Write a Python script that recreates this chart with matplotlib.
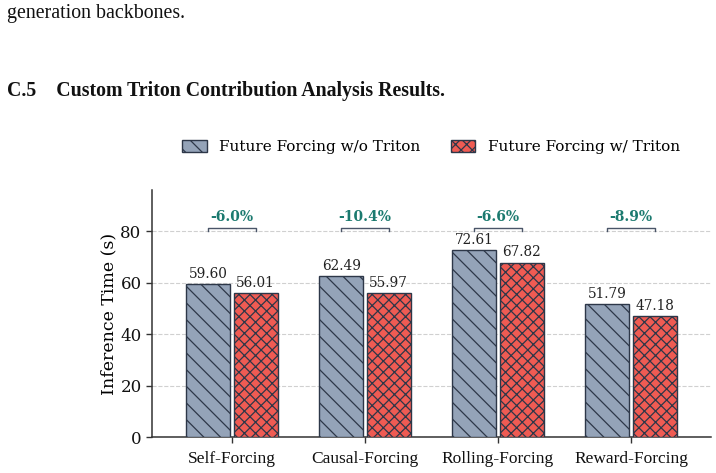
import matplotlib
matplotlib.use("Agg")
import matplotlib.pyplot as plt
import numpy as np

categories = ["Self-Forcing", "Causal-Forcing", "Rolling-Forcing", "Reward-Forcing"]
without_triton = [59.60, 62.49, 72.61, 51.79]
with_triton = [56.01, 55.97, 67.82, 47.18]
reductions = ["-6.0%", "-10.4%", "-6.6%", "-8.9%"]
series_names = ["Future Forcing w/o Triton", "Future Forcing w/ Triton"]
y_ticks = [0, 20, 40, 60, 80]

blue = "#94a3b8"
red = "#ef5b53"
edge = "#2d3748"
teal = "#1b7a6f"
bracket_c = "#4a5568"

plt.rcParams["hatch.linewidth"] = 0.9
plt.rcParams["hatch.color"] = edge

fig = plt.figure(figsize=(7.16, 4.73), dpi=100)
ax = fig.add_axes([0.2123, 0.0761, 0.7807, 0.522])

x = np.arange(len(categories))
w = 0.33
off = 0.178
b1 = ax.bar(x - off, without_triton, w, color=blue, edgecolor=edge, linewidth=1.0,
            hatch="\\\\", label=series_names[0], zorder=3)
b2 = ax.bar(x + off, with_triton, w, color=red, edgecolor=edge, linewidth=1.0,
            hatch="xxx", label=series_names[1], zorder=3)

for xi, v in zip(x - off, without_triton):
    ax.text(xi, v + 1.2, f"{v:.2f}", ha="center", va="bottom", fontsize=9.8,
            family="DejaVu Serif", color="#222222")
for xi, v in zip(x + off, with_triton):
    ax.text(xi, v + 1.2, f"{v:.2f}", ha="center", va="bottom", fontsize=9.8,
            family="DejaVu Serif", color="#222222")

by = 80.0
bh = 1.3
for xi, r in zip(x, reductions):
    ax.plot([xi - off, xi - off, xi + off, xi + off], [by, by + bh, by + bh, by],
            color=bracket_c, lw=1.0, zorder=4)
    ax.text(xi, by + bh + 1.4, r, ha="center", va="bottom", fontsize=10,
            family="DejaVu Serif", fontweight="bold", color=teal)

ax.set_xlim(-0.6, 3.6)
ax.set_ylim(0, 96)
ax.set_yticks(y_ticks)
ax.set_xticks(x)
ax.set_xticklabels(categories, family="Liberation Serif", fontsize=12.5)
for lab in ax.get_yticklabels():
    lab.set_family("DejaVu Serif")
    lab.set_fontsize(12)
ax.set_ylabel("Inference Time (s)", family="DejaVu Serif", fontsize=12.5, labelpad=2)

ax.yaxis.grid(True, linestyle="--", color="#d0d0d0", lw=0.8, zorder=0)
ax.set_axisbelow(True)
for s in ["top", "right"]:
    ax.spines[s].set_visible(False)
for s in ["left", "bottom"]:
    ax.spines[s].set_color("#333333")
    ax.spines[s].set_linewidth(1.1)
ax.tick_params(axis="both", colors="#333333", length=4, width=1.0, labelcolor="#111111")
ax.tick_params(axis="x", pad=6)

leg = fig.legend(handles=[b1, b2], labels=series_names, loc="center",
                 bbox_to_anchor=(0.602, 0.689), ncol=2, frameon=False,
                 prop={"family": "DejaVu Serif", "size": 11}, columnspacing=2.0,
                 handlelength=1.6, handleheight=0.8)

fig.text(0.0098, 0.972, "generation backbones.", family="Liberation Serif",
         fontsize=14.3, ha="left", va="center", color="#111111")
fig.text(0.0098, 0.807, "C.5    Custom Triton Contribution Analysis Results.",
         family="Liberation Serif", fontweight="bold", fontsize=14.3,
         ha="left", va="center", color="#111111")

fig.savefig("out.png", dpi=100)
